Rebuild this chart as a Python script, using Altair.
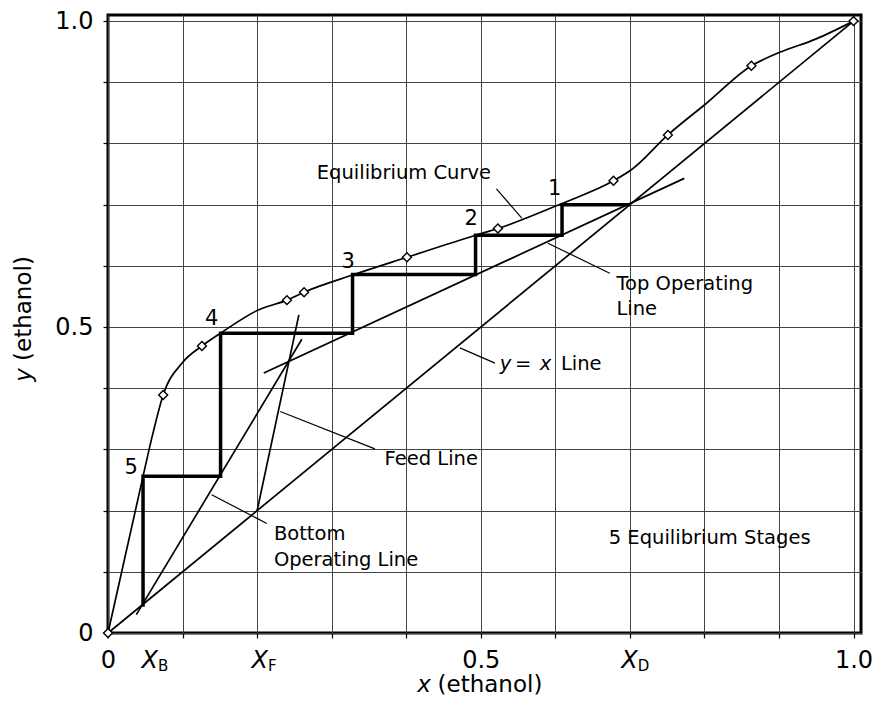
import altair as alt
import pandas as pd

FONT = "DejaVu Sans"

# ---- equilibrium curve ----
eq_x = [0.000, 0.047, 0.060, 0.074, 0.100, 0.126, 0.151, 0.200, 0.240, 0.263, 0.328,
        0.401, 0.493, 0.523, 0.609, 0.678, 0.702, 0.751, 0.802, 0.863, 0.901, 0.950, 1.000]
eq_y = [0.000, 0.256, 0.325, 0.389, 0.442, 0.469, 0.490, 0.527, 0.544, 0.557, 0.585,
        0.614, 0.650, 0.661, 0.702, 0.739, 0.757, 0.814, 0.865, 0.927, 0.949, 0.971, 1.000]

# measured equilibrium data points (diamonds)
pt_x = [0.000, 0.074, 0.126, 0.240, 0.263, 0.401, 0.523, 0.678, 0.751, 0.863, 1.000]
pt_y = [0.000, 0.389, 0.469, 0.544, 0.557, 0.614, 0.661, 0.739, 0.814, 0.927, 1.000]

# stage staircase
stair_x = [0.700, 0.609, 0.609, 0.493, 0.493, 0.328, 0.328, 0.151, 0.151, 0.047, 0.047]
stair_y = [0.700, 0.700, 0.650, 0.650, 0.586, 0.586, 0.490, 0.490, 0.256, 0.256, 0.043]

# straight lines
diag_x = [0.0, 1.0]
diag_y = [0.0, 1.0]
top_op_x = [0.209, 0.773]
top_op_y = [0.425, 0.743]
bot_op_x = [0.038, 0.260]
bot_op_y = [0.030, 0.480]
feed_x = [0.200, 0.256]
feed_y = [0.200, 0.520]

# leader lines for the annotations
lead_x1 = [0.521, 0.590, 0.472, 0.231, 0.139]
lead_y1 = [0.726, 0.637, 0.466, 0.362, 0.226]
lead_x2 = [0.555, 0.673, 0.519, 0.358, 0.213]
lead_y2 = [0.678, 0.588, 0.441, 0.301, 0.179]

# annotation texts
ann_text = ["Equilibrium Curve", "Top Operating", "Line", "Feed Line", "Bottom",
            "Operating Line", "5 Equilibrium Stages"]
ann_x = [0.280, 0.682, 0.682, 0.371, 0.2225, 0.2225, 0.807]
ann_y = [0.751, 0.570, 0.529, 0.285, 0.161, 0.119, 0.156]
ann_align = ["left", "left", "left", "left", "left", "left", "center"]

# stage numbers
stage_text = ["1", "2", "3", "4", "5"]
stage_x = [0.599, 0.487, 0.322, 0.139, 0.031]
stage_y = [0.726, 0.676, 0.607, 0.513, 0.270]

# "y = x Line" pieces
yx_text = ["y", "=", "x", "Line"]
yx_x = [0.5255, 0.557, 0.579, 0.6075]
yx_style = ["italic", "normal", "italic", "normal"]
yx_align = ["left", "center", "left", "left"]

# special x-axis labels (X_B, X_F, X_D)
xl_main = ["X", "X", "X"]
xl_sub = ["B", "F", "D"]
xl_pos = [0.067, 0.2145, 0.7105]

tick_vals = [0.0, 0.1, 0.2, 0.3, 0.4, 0.5, 0.6, 0.7, 0.8, 0.9, 1.0]

label_expr = ("abs(datum.value) < 1e-6 ? '0' : abs(datum.value - 0.5) < 1e-6 ? '0.5' : "
              "abs(datum.value - 1) < 1e-6 ? '1.0' : ''")

xscale = alt.Scale(domain=[0, 1.01], nice=False, zero=False)
yscale = alt.Scale(domain=[0, 1.01], nice=False, zero=False)

xaxis = alt.Axis(values=tick_vals, grid=True, gridColor="#444444", gridWidth=1,
                 domain=False, ticks=True, tickColor="black", tickSize=5, tickWidth=1.2,
                 labelExpr=label_expr, labelFontSize=24, labelFont=FONT, labelColor="black",
                 labelPadding=10, labelFlush=False, labelOverlap=False, title="")
yaxis = alt.Axis(values=tick_vals, grid=True, gridColor="#444444", gridWidth=1,
                 domain=False, ticks=True, tickColor="black", tickSize=5, tickWidth=1.2,
                 labelExpr=label_expr, labelFontSize=24, labelFont=FONT, labelColor="black",
                 labelPadding=10, labelFlush=False, labelOverlap=False, title="")


def X(field="x"):
    return alt.X(f"{field}:Q", scale=xscale, axis=xaxis)


def Y(field="y"):
    return alt.Y(f"{field}:Q", scale=yscale, axis=yaxis)


def line_layer(xs, ys, width, ordered=False):
    df = pd.DataFrame({"x": xs, "y": ys, "i": list(range(len(xs)))})
    enc = dict(x=X(), y=Y())
    if ordered:
        enc["order"] = alt.Order("i:Q")
    return alt.Chart(df).mark_line(color="black", strokeWidth=width, clip=False).encode(**enc)


eq_curve = alt.Chart(pd.DataFrame({"x": eq_x, "y": eq_y})).mark_line(
    color="black", strokeWidth=1.7, interpolate="monotone").encode(x=X(), y=Y())

diag = line_layer(diag_x, diag_y, 1.7)
top_op = line_layer(top_op_x, top_op_y, 1.7)
bot_op = line_layer(bot_op_x, bot_op_y, 1.7)
feed = line_layer(feed_x, feed_y, 1.7)
stairs = line_layer(stair_x, stair_y, 3.5, ordered=True)

leaders = alt.Chart(pd.DataFrame({"x": lead_x1, "y": lead_y1, "x2": lead_x2, "y2": lead_y2})).mark_rule(
    color="black", strokeWidth=1.2).encode(x=X(), y=Y(), x2="x2:Q", y2="y2:Q")

points = alt.Chart(pd.DataFrame({"x": pt_x, "y": pt_y})).mark_point(
    shape="diamond", size=80, filled=True, fill="white", stroke="black",
    strokeWidth=1.4, opacity=1).encode(x=X(), y=Y())

ann_df = pd.DataFrame({"x": ann_x, "y": ann_y, "t": ann_text, "a": ann_align})
ann_left = alt.Chart(ann_df[ann_df.a == "left"]).mark_text(
    align="left", baseline="middle", fontSize=19.5, font=FONT, color="black").encode(
    x=X(), y=Y(), text="t:N")
ann_center = alt.Chart(ann_df[ann_df.a == "center"]).mark_text(
    align="center", baseline="middle", fontSize=19.5, font=FONT, color="black").encode(
    x=X(), y=Y(), text="t:N")

stages = alt.Chart(pd.DataFrame({"x": stage_x, "y": stage_y, "t": stage_text})).mark_text(
    align="center", baseline="middle", fontSize=21, font=FONT, color="black").encode(
    x=X(), y=Y(), text="t:N")

yx_df = pd.DataFrame({"x": yx_x, "y": [0.44] * 4, "t": yx_text, "s": yx_style, "a": yx_align})
yx_layers = []
for style in ["italic", "normal"]:
    for al in ["left", "center"]:
        sub = yx_df[(yx_df.s == style) & (yx_df.a == al)]
        if len(sub) == 0:
            continue
        yx_layers.append(alt.Chart(sub).mark_text(
            align=al, baseline="middle", fontSize=19.5, font=FONT, fontStyle=style,
            color="black").encode(x=X(), y=Y(), text="t:N"))

xl_df = pd.DataFrame({"x": xl_pos, "y": [0.0] * 3, "m": xl_main, "s": xl_sub})
xl_main_layer = alt.Chart(xl_df).mark_text(
    align="right", baseline="alphabetic", dy=35, fontSize=24, font=FONT,
    fontStyle="italic", color="black").encode(x=X(), y=Y(), text="m:N")
xl_sub_layer = alt.Chart(xl_df).mark_text(
    align="left", baseline="alphabetic", dy=38, fontSize=15, font=FONT,
    color="black").encode(x=X(), y=Y(), text="s:N")

# axis titles with italic variable letters
xt_df = pd.DataFrame({"x": [0.433, 0.442], "y": [0.0, 0.0], "t": ["x", "(ethanol)"]})
xt_var = alt.Chart(xt_df.iloc[[0]]).mark_text(
    align="right", baseline="alphabetic", dy=59, fontSize=23, font=FONT,
    fontStyle="italic", color="black").encode(x=X(), y=Y(), text="t:N")
xt_word = alt.Chart(xt_df.iloc[[1]]).mark_text(
    align="left", baseline="alphabetic", dy=59, fontSize=23, font=FONT,
    color="black").encode(x=X(), y=Y(), text="t:N")

yt_df = pd.DataFrame({"x": [-0.1032, -0.1032], "y": [0.433, 0.4446], "t": ["y", "(ethanol)"]})
yt_var = alt.Chart(yt_df.iloc[[0]]).mark_text(
    align="right", baseline="alphabetic", angle=270, fontSize=23, font=FONT,
    fontStyle="italic", color="black").encode(x=X(), y=Y(), text="t:N")
yt_word = alt.Chart(yt_df.iloc[[1]]).mark_text(
    align="left", baseline="alphabetic", angle=270, fontSize=23, font=FONT,
    color="black").encode(x=X(), y=Y(), text="t:N")

chart = alt.layer(
    eq_curve, diag, top_op, bot_op, feed, stairs, leaders, points,
    ann_left, ann_center, stages, *yx_layers,
    xl_main_layer, xl_sub_layer, xt_var, xt_word, yt_var, yt_word,
).properties(
    width=753, height=618,
    autosize=alt.AutoSizeParams(type="none"),
    padding={"left": 100, "top": 7, "right": 13, "bottom": 65},
    background="white",
).configure_view(stroke="black", strokeWidth=3)

chart.save("out.html", embed_options={"renderer": "svg", "actions": False})
